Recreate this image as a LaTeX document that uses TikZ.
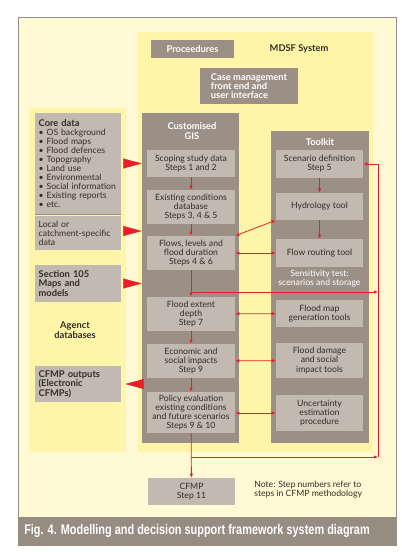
\documentclass[tikz,border=0pt]{standalone}
\usepackage{fontspec}
\setmainfont{Lato}
\newfontfamily\capfont[FakeStretch=0.78]{Liberation Sans}
\usetikzlibrary{arrows.meta,positioning,calc}
\definecolor{cpale}{RGB}{255,249,214}
\definecolor{cyell}{RGB}{255,245,168}
\definecolor{cpanel}{RGB}{156,144,134}
\definecolor{cbox}{RGB}{194,186,176}
\definecolor{cframe}{RGB}{150,140,130}
\definecolor{ctext}{RGB}{50,45,40}
\definecolor{cred}{RGB}{232,30,40}
\tikzset{
  panel/.style={fill=cpanel, inner sep=0pt},
  gbox/.style={fill=cbox, minimum width=66pt, inner sep=0pt, align=center,
    font=\fontsize{6.5}{6.8}\selectfont, text=ctext},
  tbox/.style={gbox, minimum width=65.25pt},
  lbox/.style={fill=cbox, minimum width=64.5pt, inner sep=0pt, text width=59pt,
    align=left, font=\fontsize{6.5}{6.8}\selectfont, text=ctext},
  head/.style={fill=cpanel, text=white, inner sep=0pt,
    font=\bfseries\fontsize{7}{7.2}\selectfont},
  title/.style={text=white, inner sep=0pt, align=center,
    font=\bfseries\fontsize{7}{7.4}\selectfont},
  arr/.style={-{Latex[length=3pt,width=2.6pt]}, line width=0.6pt, draw=cred},
  darr/.style={{Latex[length=3pt,width=2.6pt]}-{Latex[length=3pt,width=2.6pt]},
    line width=0.6pt, draw=cred},
  bigarr/.style={-{Triangle[length=14pt,width=7.5pt]}, draw=cred, fill=cred,
    line width=0.3pt}
}
\begin{document}
\hyphenpenalty=10000
\begin{tikzpicture}[x=0.75pt,y=-0.75pt]
  \useasboundingbox (0,0) rectangle (402,552);
  % backgrounds
  \draw[cframe, fill=cpale] (18,17) rectangle (396,545);
  \fill[cyell] (138,32) rectangle (373,452);
  \fill[cyell] (29,108) rectangle (126,452);
  \fill[cframe] (18,517) rectangle (396,545);

  % system header
  \node[head, minimum width=62.25pt, minimum height=13.5pt] (proc) at (192.5,49) {Proceedures};
  \node[text=ctext, font=\bfseries\fontsize{7}{7.2}\selectfont] (mdsf) at (299,49) {MDSF System};
  \node[head, minimum width=73.5pt, minimum height=27pt, align=left,
        font=\bfseries\fontsize{7}{7}\selectfont] (case) at (249,86)
        {Case management\\front end and\\user interface};

  % panels
  \node[panel, minimum width=72.75pt, minimum height=247.5pt] (gis) at (190.5,278) {};
  \node[title] (gist) at (192,131.5) {Customised\\GIS};
  \node[panel, minimum width=73.5pt, minimum height=234pt] (tk) at (320,287) {};
  \node[title] (tkt) at (320,142) {Toolkit};

  % GIS steps
  \node[gbox, minimum height=20.25pt] (scope)  at (191,163.5) {Scoping study data\\Steps 1 and 2};
  \node[gbox, minimum height=25.5pt]  (exist)  at (191,207)   {Existing conditions\\database\\Steps 3, 4 \& 5};
  \node[gbox, minimum height=25.5pt]  (flows)  at (191,253)   {Flows, levels and\\flood duration\\Steps 4 \& 6};
  \node[gbox, minimum height=25.5pt]  (extent) at (191,314)   {Flood extent\\depth\\Step 7};
  \node[gbox, minimum height=25.5pt]  (econ)   at (191,361)   {Economic and\\social impacts\\Step 9};
  \node[gbox, minimum height=30.75pt] (policy) at (191,412.5) {Policy evaluation\\existing conditions\\and future scenarios\\Steps 9 \& 10};

  % toolkit
  \node[tbox, minimum height=21pt]    (scen)  at (319.5,164)   {Scenario definition\\Step 5};
  \node[tbox, minimum height=20.25pt] (hydro) at (319.5,206.5) {Hydrology tool};
  \node[tbox, minimum height=21pt]    (route) at (319.5,253)   {Flow routing tool};
  \node[title, font=\fontsize{6.5}{6.8}\selectfont] (sens) at (319.5,279) {Sensitivity test:\\scenarios and storage};
  \node[tbox, minimum height=20.25pt] (fmap)  at (319.5,313.5) {Flood map\\generation tools};
  \node[tbox, minimum height=26.25pt] (fdam)  at (319.5,360.5) {Flood damage\\and social\\impact tools};
  \node[tbox, minimum height=27pt]    (unc)   at (319.5,413)   {Uncertainty\\estimation\\procedure};

  % agency data
  \node[lbox, minimum height=75.75pt] (core) at (78,163.5)
    {\textbf{\fontsize{7}{7}\selectfont Core data}\\
     \textbullet{} OS background\\ \textbullet{} Flood maps\\ \textbullet{} Flood defences\\
     \textbullet{} Topography\\ \textbullet{} Land use\\ \textbullet{} Environmental\\
     \textbullet{} Social information\\ \textbullet{} Existing reports\\ \textbullet{} etc.};
  \node[lbox, minimum height=25.5pt] (local) at (78,233) {Local or\\catchment-specific\\data};
  \draw[cframe, line width=0.8pt] (core.south west) -- (core.south east);
  \node[lbox, minimum height=27.75pt, font=\bfseries\fontsize{7}{7.2}\selectfont] (sec) at (78,283.5)
    {Section 105\\Maps and\\models};
  \node[text=ctext, align=center, font=\bfseries\fontsize{7}{7.4}\selectfont] (agent) at (75,330)
    {Agenct\\databases};
  \node[lbox, minimum height=27pt, font=\bfseries\fontsize{7}{7.2}\selectfont] (cfmpo) at (78,384)
    {CFMP outputs\\(Electronic\\CFMPs)};

  % final step and note
  \node[tbox, minimum height=20.25pt] (cfmp) at (191.5,491.5) {CFMP\\Step 11};
  \node[anchor=west, inner sep=0pt, align=left, text=ctext,
        font=\fontsize{6.5}{6.8}\selectfont] (note) at (254,490)
        {Note: Step numbers refer to\\steps in CFMP methodology};
  \node[anchor=west, inner sep=0pt, text=white,
        font=\capfont\bfseries\fontsize{10.5}{12}\selectfont] (cap) at (24,531)
        {Fig. 4. Modelling and decision support framework system diagram};

  % big data arrows
  \draw[bigarr, shorten <=3pt] (core.east) -- (gis.west |- core.east);
  \draw[bigarr, shorten <=3pt] (local.east |- 0,231) -- (gis.west |- 0,231);
  \draw[bigarr, shorten <=3pt] (sec.east) -- (gis.west |- sec.east);
  \draw[bigarr, shorten >=3pt] (gis.west |- cfmpo.east) -- (cfmpo.east);

  % flow arrows
  \coordinate (fork)  at (191,292);
  \coordinate (rmid)  at (378,292);
  \coordinate (bfork) at (191,457);
  \coordinate (rbot)  at (378,457);
  \draw[arr] (scope) -- (exist);
  \draw[arr] (exist) -- (flows);
  \draw[arr] (flows) -- (extent);
  \draw[arr] (extent) -- (econ);
  \draw[arr] (econ) -- (policy);
  \draw[arr] (policy) -- (cfmp);
  \draw[arr] (scen) -- (hydro);
  \draw[arr] (hydro) -- (route);
  \draw[darr] (hydro.south west) -- (flows.north east);
  \draw[darr] (flows) -- (route);
  \draw[darr] (extent) -- (fmap);
  \draw[darr] (econ) -- (fdam);
  \draw[darr] (policy.east |- unc) -- (unc);
  \draw[arr] (fork) -- (rmid);
  \draw[arr] (bfork) -- (rbot);
  \draw[arr] (rbot) |- (scen.east);
\end{tikzpicture}
\end{document}
